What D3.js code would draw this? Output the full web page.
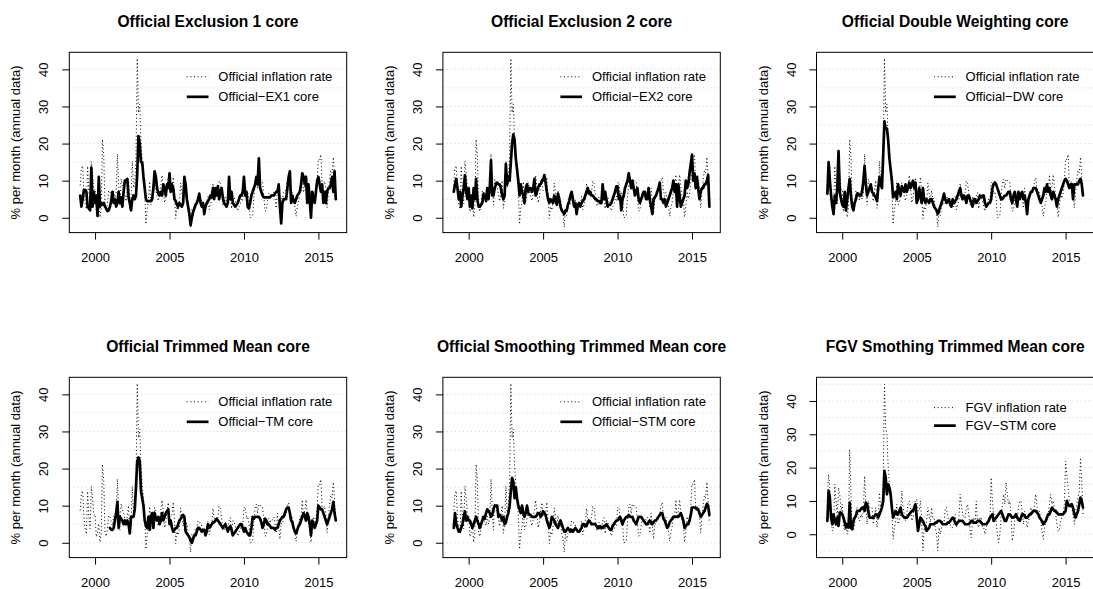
<!DOCTYPE html>
<html>
<head>
<meta charset="utf-8">
<script src="https://cdn.jsdelivr.net/npm/d3@7"></script>
<style>
  body { margin: 0; background: #fff; }
  svg  { display: block; font-family: "Liberation Sans", Arial, Helvetica, sans-serif; }
</style>
</head>
<body>
<svg id="chart" width="1093" height="589"></svg>
<script>
// ── Data (monthly, Jan 1999 – Mar 2016, % per month in annual terms) ─────────

const START_YEAR = 1999;

const officialRate = [
  8.73, 13.35, 14.03, 6.94, 3.66, 2.30, 13.90, 6.94, 3.78, 15.25, 12.01, 7.44,
  7.70, 1.57, 2.67, 5.16, 0.12, 2.79, 21.14, 16.90, 2.79, 1.69, 3.91, 7.32,
  7.07, 5.66, 4.66, 7.19, 5.03, 6.43, 17.18, 8.73, 3.41, 10.43, 8.86, 8.09,
  6.43, 4.41, 7.44, 10.03, 2.55, 5.16, 15.25, 8.09, 8.99, 16.90, 42.95, 28.32,
  30.60, 20.60, 15.80, 12.27, 7.57, -1.78, 2.43, 4.16, 9.77, 3.53, 4.16, 6.43,
  9.51, 7.57, 5.79, 4.53, 6.30, 8.86, 11.48, 8.61, 4.03, 5.41, 8.61, 10.82,
  7.19, 7.32, 7.57, 10.96, 6.04, -0.24, 3.04, 2.06, 4.28, 9.38, 6.81, 4.41,
  7.32, 5.03, 5.28, 2.55, 1.21, -2.49, 2.30, 0.60, 2.55, 4.03, 3.78, 5.92,
  5.41, 5.41, 4.53, 3.04, 3.41, 3.41, 2.92, 5.79, 2.18, 3.66, 4.66, 9.25,
  6.68, 6.04, 5.92, 6.81, 9.90, 9.25, 6.55, 3.41, 3.16, 5.54, 4.41, 3.41,
  5.92, 6.81, 2.43, 5.92, 5.79, 4.41, 2.92, 1.81, 2.92, 3.41, 5.03, 4.53,
  9.38, 9.77, 6.43, 7.07, 5.28, 0.00, 0.12, 0.48, 5.54, 9.38, 10.43, 7.83,
  10.43, 10.03, 9.90, 9.64, 5.79, 1.81, 1.94, 4.53, 6.55, 5.28, 6.43, 6.17,
  6.94, 5.54, 2.55, 7.96, 4.41, 0.96, 5.28, 5.03, 7.07, 7.32, 7.44, 9.90,
  10.82, 7.44, 5.79, 6.81, 4.53, 3.16, 0.36, 2.92, 4.28, 7.07, 6.68, 11.61,
  6.81, 8.61, 11.61, 8.35, 5.66, 4.91, 0.12, 3.04, 7.07, 5.16, 6.30, 9.77,
  15.93, 15.66, 17.04, 8.86, 9.25, 9.90, 7.70, 2.67, 6.68, 10.30, 12.81, 12.14,
  16.35, 11.35, 5.28
];

const fgvRate = [
  10, 18, 14, 5, 1, 2, 15, 10, 5, 14, 12, 7,
  9, 2, 1, 4, 0, 2, 25.5, 12, 2, 1, 3, 6,
  8, 5, 4, 6, 5, 7, 17.5, 9, 3, 10, 8, 8,
  8, 3, 5, 8, 2, 5, 12.5, 8, 9, 16, 45, 32,
  30, 20, 15, 12, 6, -1.5, 2, 4, 9, 3, 4, 6,
  13, 8, 6, 4, 6, 9, 10, 8, 4, 5, 9, 10,
  10.5, 7, 7, 10, 4, -5, 2, 1, 4, 8, 6, 3,
  8, 5, 5, 2, 0, -5, 2, 0, 2, 4, 3, 8,
  8, 5, 4, 3, 2, 2, 3, 6, 2, 3, 5, 12,
  9, 6, 5, 5, 8, 9, 6, 1, -1, 4, 5, 3,
  10, 3, 2, 5, 5, 2, 2, 0, 2, 3, 5, 4,
  17, 10, 6, 6, 4, 0, -2.5, 0, 5, 9, 12, 9,
  15.5, 12, 9, 10, 6, -2, 0, 4, 6, 4, 8, 10,
  10, 6, 3, 7, 5, 2, 4, 5, 8, 7, 7, 9,
  12, 8, 6, 7, 4, 1, -1.5, 2, 4, 6, 6, 9,
  12, 9, 10, 8, 6, 3, 1, 1, 4, 5, 6, 9,
  22, 18, 14, 10, 9, 8, 6, 3, 6, 9, 11, 13,
  23, 16, 6
];

const coreEX1 = [
  6, 3, 5, 7.5, 7.5, 7, 3, 2.5, 2, 13.5, 3, 7,
  4, 6, 0.5, 11, 3, 4, 3.5, 4, 3, 2.5, 1.8, 2,
  3, 4.5, 7, 4, 5, 3, 4, 7, 4, 5.5, 3, 7,
  10, 10, 10.5, 5.5, 4, 2, 5, 6, 5, 6, 12, 22,
  20, 15, 15, 11, 8, 5, 4.5, 4.5, 4.5, 4.5, 5, 8,
  12.5, 11, 8, 6.5, 6, 7, 6, 9, 8, 6, 9, 8,
  12, 7, 9, 8, 5, 4.5, 3.5, 3, 4, 3.5, 3, 4,
  11, 9, 5, 3, 1, -2, 0, 1.5, 2.5, 3.5, 4, 5,
  6.5, 4, 3, 4, 1, 3, 4, 4.5, 5, 6, 5.5, 8,
  5, 8, 6, 8.5, 5, 7, 8, 5.5, 4, 3.5, 3, 4,
  11, 5, 7, 4, 3.5, 3, 3.5, 4, 5, 6, 6, 7,
  11, 6, 7, 3, 2.5, 4, 6, 7, 8, 9, 11, 9,
  16, 8, 7, 6, 5.5, 5.5, 5.5, 5.5, 5.5, 5.5, 6, 6,
  6, 6.5, 7, 7, 9, 3, -1.5, 4, 5, 5, 5, 8,
  11, 12.5, 4, 6, 4.5, 4, 5, 6, 6.5, 7, 9, 12,
  11, 9, 11, 4, 9, 5, 0, 7, 5, 4, 7, 10,
  11, 9, 7, 9, 4, 7, 4, 7, 8, 8, 9, 11,
  7, 12.5, 5
];

const coreEX2 = [
  7, 9, 10.5, 8, 5, 7, 3, 6, 8, 11.5, 7, 5,
  8, 3, 6, 2.5, 8, 5, 10.5, 5, 3, 3, 3.5, 4,
  6.5, 6, 4.5, 8, 5, 8, 15.5, 6, 6, 8, 9, 9.5,
  9, 9, 8, 6, 5, 6, 14.5, 9, 11, 10, 15, 20,
  22.5, 21, 16, 13, 10, 6, 9, 7, 6, 4, 8, 9,
  7, 8, 8, 7, 8, 10.5, 6, 7, 8, 9, 9, 10,
  10, 11.5, 9.5, 7, 5, 4, 5, 4.5, 4, 6, 5, 3.5,
  6.5, 5, 3, 2, 1.5, 1, 2, 2, 3.5, 4.5, 6, 7,
  5, 3, 4, 1, 3.5, 4, 3, 4, 4.5, 5, 6, 7,
  8, 6.5, 7, 6, 6, 5.5, 5, 5, 4.5, 4.5, 4, 4,
  9, 5, 7, 5, 3, 3.5, 3.5, 4, 5, 6, 7, 8.5,
  8.5, 5, 6, 2, 5, 6, 8, 9, 10, 12, 10, 8,
  10, 8, 6, 7, 8, 5, 4, 5, 6, 7, 7, 5,
  5, 8, 5, 3, 1, 5, 5.5, 6, 7, 8, 9.5, 5,
  5, 4, 5, 3, 4, 5, 6, 7, 8, 10, 7, 9,
  3, 9, 6, 3, 4, 5, 6, 10, 8, 9, 12, 14.5,
  17, 10, 12, 8, 11, 8, 5, 7, 8, 8, 9, 9,
  10, 11.5, 3
];

const coreDW = [
  6.5, 15, 10, 6, 3, 1, 6, 4, 8, 18, 7, 5,
  3.5, 3, 7, 2, 5, 8, 10.5, 6, 3, 2, 4, 5,
  6.5, 6.5, 6, 6, 7, 10, 14, 9, 6, 7, 8, 9,
  7, 6.5, 6, 5.5, 4.5, 8, 11, 9, 8, 17, 26, 24,
  24, 21, 16, 13, 10, 5.5, 6, 7, 5, 9, 7, 6,
  8.5, 7.5, 7, 9, 7, 8, 9.5, 8, 9, 10, 8, 9.5,
  4, 5, 8, 6, 4, 8, 5, 4, 5, 4.5, 4, 5,
  5, 4, 3, 2.5, 2, 1, 2, 3, 4, 5, 6.5, 5,
  4, 4.5, 5, 3.5, 3, 5, 4, 4.5, 5, 6, 7, 8,
  6, 5, 6, 5.5, 4, 6, 6, 5, 4, 3, 5, 5,
  4, 4.5, 5, 6, 5.5, 6, 6, 4, 3, 3.5, 4, 4,
  5, 8, 9, 9.5, 9, 8, 7, 6, 5, 5, 5.5, 6,
  6, 6.5, 7, 7, 5, 4, 6, 7, 5, 3, 7, 5,
  6, 7, 5, 6, 4, 1, 5, 6, 7, 7, 8, 8,
  8, 7, 6, 5, 4, 5, 6, 8, 7, 9, 7, 8,
  6, 5, 7, 6, 5, 3, 5, 6, 7, 8, 9, 10,
  10.5, 10, 9, 8, 9, 9, 5, 9, 9, 9, 9, 10,
  10.5, 9, 6
];

// trimmed mean core only starts in 2001
const coreTM = [
  null, null, null, null, null, null, null, null, null, null, null, null,
  null, null, null, null, null, null, null, null, null, null, null, null,
  4, 3.5, 3.5, 4, 6, 8, 11, 4, 7, 6.5, 6, 5,
  6, 5, 6, 5, 2.5, 7, 7, 7, 9, 15, 22, 23,
  22, 14, 12, 10, 6, 4.5, 4, 7, 3.5, 7, 8, 4,
  8, 6.5, 6, 7, 5, 6, 8, 6, 7, 8, 8.5, 9,
  5, 6, 4, 3, 3.5, 4, 4, 5, 6, 6.5, 7, 7.5,
  7, 3, 2.5, 2, 1.5, 0.5, 0, 1, 2, 2, 3, 4,
  4, 3.5, 3, 3.5, 3.5, 2, 3, 5, 4, 4.5, 5, 5.5,
  5.5, 6, 6.5, 6, 5.5, 5, 4.5, 4, 4.5, 5, 4, 3,
  4, 4.5, 3.5, 2, 2.5, 3, 3.5, 4, 4.5, 5, 5, 4,
  3, 4, 3, 2.5, 2, 2, 4, 7, 6.5, 7, 7, 7,
  7, 6.5, 5.5, 4, 5, 6.5, 6, 5, 5, 4.5, 4, 4,
  4, 3.5, 4, 4, 5, 6, 6.5, 7, 7, 8, 9, 9.5,
  9.5, 8, 6, 5.5, 4, 3, 2.5, 3.5, 4.5, 5, 6, 7,
  8, 7, 6, 8, 7, 5, 2, 6, 5, 4, 5, 6,
  10, 9.5, 9, 9, 8, 7, 6, 5, 6, 7, 8, 9,
  11, 8, 6
];

const coreSTM = [
  4, 8, 5, 4, 3, 3, 4, 5, 7, 8.5, 6, 7,
  6, 6, 5, 4, 5, 6, 7, 6, 5, 4, 5, 6,
  7, 6.5, 8, 9, 8.5, 8, 7, 7.5, 9, 10, 10, 10,
  7, 7.5, 7, 6, 7, 5, 5.5, 7, 8, 10, 14, 17.5,
  16.5, 12, 15, 12, 10, 9, 8, 10, 8, 7, 8, 10,
  8, 7.5, 7.5, 7, 7, 7, 7, 7.5, 8, 8, 7, 7.5,
  8.5, 8, 7.5, 6, 5, 4, 5, 7, 6.5, 6, 5, 4.5,
  4, 5, 6, 5, 4, 3, 3, 3.5, 4, 3.5, 3, 3.5,
  3, 3.5, 4, 3.5, 3, 3, 3.5, 4, 5, 5, 4.5, 4.5,
  5.5, 6, 5.5, 5, 5, 5, 5, 4.5, 4, 4, 4.5, 4,
  4, 4.5, 4.5, 5, 4.5, 4, 3.5, 3.5, 4.5, 5, 5.5, 6,
  6, 6.5, 7, 6, 5, 6, 6.5, 7, 7, 7.5, 7, 7,
  7, 6, 5.5, 5, 6, 7, 7, 7, 6.5, 6, 5.5, 5,
  5, 5.5, 6, 5.5, 5, 5.5, 6, 6, 6.5, 7, 7.5, 8,
  8, 6.5, 6, 5, 4, 4.5, 5.5, 6, 6.5, 7, 7, 7,
  7, 7, 7.5, 8, 7, 6, 4, 4.5, 5, 5, 6, 7.5,
  9.5, 9.5, 9.5, 9.5, 9, 9, 8, 7, 7.5, 8, 8.5, 9.5,
  10.5, 10, 7.5
];

const coreFGV = [
  4, 13, 11, 5, 3, 6, 4, 3, 5, 2.5, 6.5, 6.5,
  6, 5, 3.5, 2, 3, 2, 9.5, 2, 1.5, 4, 5, 5.5,
  7, 7, 7, 7.5, 8, 8, 7, 9.5, 9, 7, 5, 5,
  5, 5, 5.5, 6, 6, 5, 6, 7, 8, 10, 19, 17,
  12, 15, 14, 12, 8, 5, 6, 7, 6, 6, 7, 8,
  6, 5.5, 5, 5, 5, 5.5, 6, 6.5, 7, 7, 8, 9,
  5, 1, 3, 5, 4.5, 4, 3, 2.5, 1, 1.5, 2, 3,
  3, 3, 3, 3.5, 3.5, 4, 4, 4, 3.5, 3, 3, 3,
  3, 3.5, 3.5, 4, 4.5, 5, 4.5, 3.5, 3, 3.5, 4, 4,
  4, 4, 3.5, 3, 3, 3, 3, 3.5, 4, 4, 3.5, 3.5,
  3.5, 4, 4, 4, 3.5, 3, 3, 3, 3, 3.5, 4, 5,
  5.5, 6, 4, 4.5, 5, 5.5, 6, 6.5, 7, 6, 5, 4,
  4, 5, 6, 6, 5.5, 5, 5, 5.5, 6, 5, 4.5, 4,
  5, 6, 6, 5.5, 5, 5, 5.5, 6, 6, 6.5, 7, 7,
  7, 6.5, 6, 5, 4.5, 4, 3, 3.5, 4, 5, 6, 6,
  7, 8, 7.5, 7, 7, 6.5, 6, 6, 6, 6, 6, 6.5,
  7, 10, 9, 8.5, 8.5, 9, 8, 6, 5, 6, 7, 9,
  11, 10, 8
];

const panelTitles = [
  'Official Exclusion 1 core', 'Official Exclusion 2 core', 'Official Double Weighting core',
  'Official Trimmed Mean core', 'Official Smoothing Trimmed Mean core', 'FGV Smothing Trimmed Mean core'
];
const refLabels  = ['Official inflation rate', 'Official inflation rate', 'Official inflation rate',
                    'Official inflation rate', 'Official inflation rate', 'FGV inflation rate'];
const coreLabels = ['Official\u2212EX1 core', 'Official\u2212EX2 core', 'Official\u2212DW core',
                    'Official\u2212TM core', 'Official\u2212STM core', 'FGV\u2212STM core'];

const xTicks = [2000, 2005, 2010, 2015];
const yTicks = [0, 10, 20, 30, 40];
const gridLevels = [-5, 0, 5, 10, 15, 20, 25, 30, 35, 40, 45];
const yLabel = '% per month (annual data)';

// ── Layout ────────────────────────────────────────────────────────────────────

const COL_STEP = 373.6, ROW_STEP = 325;
const box = { left: 69.3, right: 346.7, top: 52.3, bottom: 232.6 };
const xDomain = [1998.27, 2016.9];
const yDomainOfficial = [-4.0, 44.6];
const yDomainFGV      = [-7.0, 47.1];

const panels = panelTitles.map((title, k) => ({
  title,
  ref:  k === 5 ? fgvRate : officialRate,
  core: [coreEX1, coreEX2, coreDW, coreTM, coreSTM, coreFGV][k],
  refLabel:  refLabels[k],
  coreLabel: coreLabels[k],
  yDomain: k === 5 ? yDomainFGV : yDomainOfficial
}));

const svg = d3.select('#chart');

// ── Panels ────────────────────────────────────────────────────────────────────

panels.forEach((p, k) => {
  const ox = (k % 3) * COL_STEP;
  const oy = Math.floor(k / 3) * ROW_STEP;
  const g  = svg.append('g').attr('transform', `translate(${ox},${oy})`);

  const x = d3.scaleLinear().domain(xDomain).range([box.left, box.right]);
  const y = d3.scaleLinear().domain(p.yDomain).range([box.bottom, box.top]);

  // horizontal dotted grid
  g.selectAll('.grid')
    .data(gridLevels.filter(v => v > p.yDomain[0] && v < p.yDomain[1]))
    .join('line')
    .attr('class', 'grid')
    .attr('x1', box.left).attr('x2', box.right)
    .attr('y1', d => y(d)).attr('y2', d => y(d))
    .attr('stroke', '#d3d3d3').attr('stroke-width', 1)
    .attr('stroke-dasharray', '1 3');

  const line = d3.line()
    .defined(d => d != null)
    .x((d, i) => x(START_YEAR + i / 12))
    .y(d => y(d));

  g.append('path').datum(p.ref)
    .attr('d', line).attr('fill', 'none')
    .attr('stroke', '#000').attr('stroke-width', 1)
    .attr('stroke-dasharray', '1 2.6');

  g.append('path').datum(p.core)
    .attr('d', line).attr('fill', 'none')
    .attr('stroke', '#000').attr('stroke-width', 2.7)
    .attr('stroke-linejoin', 'round').attr('stroke-linecap', 'round');

  // legend (placed in data coordinates)
  const lg = g.append('g').attr('class', 'legend');
  [[38, p.refLabel, true], [32.6, p.coreLabel, false]].forEach(([v, label, dotted]) => {
    lg.append('line')
      .attr('x1', x(2006.16)).attr('x2', x(2007.62))
      .attr('y1', y(v)).attr('y2', y(v))
      .attr('stroke', '#000')
      .attr('stroke-width', dotted ? 1 : 2.7)
      .attr('stroke-dasharray', dotted ? '1 2.6' : null);
    lg.append('text')
      .attr('x', x(2008.28)).attr('y', y(v)).attr('dy', '0.36em')
      .attr('font-size', 13).text(label);
  });

  // frame
  g.append('rect')
    .attr('x', box.left).attr('y', box.top)
    .attr('width', box.right - box.left).attr('height', box.bottom - box.top)
    .attr('fill', 'none').attr('stroke', '#000').attr('stroke-width', 1);

  // x axis
  const xAxis = g.append('g')
    .attr('transform', `translate(0,${box.bottom})`)
    .call(d3.axisBottom(x).tickValues(xTicks).tickFormat(d3.format('d')).tickSize(7).tickSizeOuter(0));
  xAxis.select('.domain').remove();
  xAxis.selectAll('text').attr('y', 29.2).attr('dy', null)
    .attr('font-size', 13).attr('font-family', null).attr('fill', '#000');

  // y axis
  const yAxis = g.append('g')
    .attr('transform', `translate(${box.left},0)`)
    .call(d3.axisLeft(y).tickValues(yTicks).tickSize(7).tickSizeOuter(0));
  yAxis.select('.domain').remove();
  yAxis.selectAll('text')
    .attr('x', null).attr('dy', null)
    .attr('transform', 'translate(-20.9,0) rotate(-90)')
    .attr('text-anchor', 'middle')
    .attr('font-size', 13).attr('font-family', null).attr('fill', '#000');

  // axis title
  g.append('text')
    .attr('transform', `translate(20.4,${(box.top + box.bottom) / 2}) rotate(-90)`)
    .attr('text-anchor', 'middle').attr('font-size', 13)
    .text(yLabel);

  // panel title
  g.append('text')
    .attr('x', (box.left + box.right) / 2).attr('y', 26.5)
    .attr('text-anchor', 'middle')
    .attr('font-size', 15.6).attr('font-weight', 'bold')
    .text(p.title);
});
</script>
</body>
</html>
